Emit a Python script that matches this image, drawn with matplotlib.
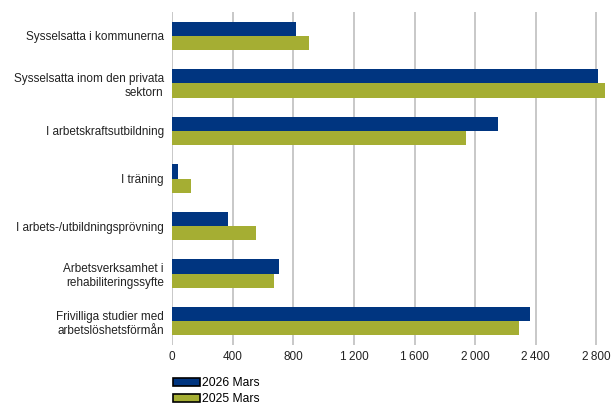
import matplotlib.pyplot as plt
import numpy as np
from matplotlib.ticker import FuncFormatter

plt.rcParams['font.family'] = ['Liberation Sans', 'DejaVu Sans']

categories = ['Sysselsatta i kommunerna',
              'Sysselsatta inom den privata\nsektorn',
              'I arbetskraftsutbildning',
              'I träning',
              'I arbets-/utbildningsprövning',
              'Arbetsverksamhet i\nrehabiliteringssyfte',
              'Frivilliga studier med\narbetslöshetsförmån']
mars_2026 = [818, 2808, 2150, 37, 369, 706, 2361]
mars_2025 = [901, 2856, 1940, 125, 554, 672, 2289]
series_names = ['2026 Mars', '2025 Mars']
xticks = [0, 400, 800, 1200, 1600, 2000, 2400, 2800]

fig = plt.figure(figsize=(6.11, 4.04), dpi=100)
ax = fig.add_axes([172 / 611, 1 - 345 / 404, (607 - 172) / 611, (345 - 12) / 404])

y = np.arange(len(categories))
h = 0.3
ax.barh(y - h / 2, mars_2026, height=h, color='#003580', label=series_names[0])
ax.barh(y + h / 2, mars_2025, height=h, color='#a5ae33', label=series_names[1])

ax.set_ylim(len(categories) - 0.5, -0.5)
ax.set_xlim(0, 2870)
ax.set_yticks(y)
ax.set_yticklabels(categories, fontsize=8.5, color='#222222')
ax.set_xticks(xticks)
ax.xaxis.set_major_formatter(FuncFormatter(lambda v, p: f'{int(v):,}'.replace(',', '\u2009')))
ax.tick_params(axis='x', labelsize=8.5, length=0, pad=4, colors='#222222')
ax.tick_params(axis='y', length=0, pad=6)
ax.grid(axis='x', color='#c4c4c4', linewidth=1.3)
ax.set_axisbelow(True)
for s in ax.spines.values():
    s.set_visible(False)

handles = [plt.Rectangle((0, 0), 1, 1, facecolor='#003580', edgecolor='black', linewidth=1.2),
           plt.Rectangle((0, 0), 1, 1, facecolor='#a5ae33', edgecolor='black', linewidth=1.2)]
fig.legend(handles, series_names, loc='upper left', bbox_to_anchor=(173 / 611, 1 - 377 / 404),
           frameon=False, fontsize=8.7, handlelength=2.2, handleheight=0.7,
           handletextpad=0.2, labelspacing=0.35, borderaxespad=0, borderpad=0)

fig.savefig('out.png', dpi=100)
